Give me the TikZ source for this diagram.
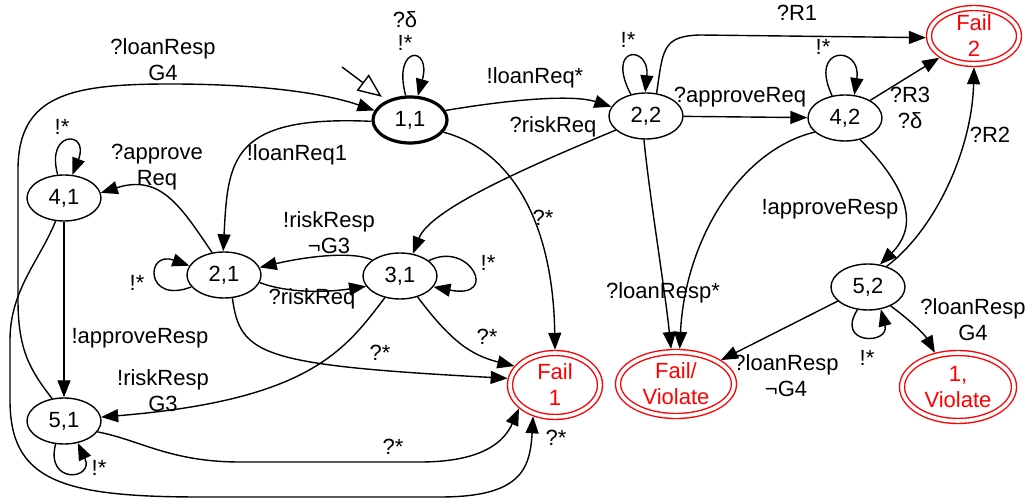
\documentclass[tikz,border=0pt]{standalone}
\usepackage{fontspec}
\setmainfont{Liberation Sans}
\usetikzlibrary{shapes.geometric,arrows.meta}

\begin{document}
\begin{tikzpicture}[x=0.5pt,y=-0.5pt,line width=0.7pt,
    font=\fontsize{11}{13}\selectfont,
    >={Triangle[length=8.5pt,width=6.5pt]},
    state/.style={ellipse,draw,minimum width=37pt,minimum height=23pt,inner sep=0pt},
    fail/.style={ellipse,draw=red,text=red,double,double distance=1.8pt,align=center,
        inner xsep=0pt,inner ysep=-3pt,outer sep=1.6pt},
    lab/.style={align=center,inner sep=0pt}]
    \path[use as bounding box] (0,0) rectangle (1028,501);

    \node[state,line width=1.6pt] (n11) at (410,120) {1,1};
    \node[state] (n22) at (646,116) {2,2};
    \node[state] (n42) at (845,118) {4,2};
    \node[state] (n41) at (64,198) {4,1};
    \node[state] (n21) at (224,275) {2,1};
    \node[state] (n31) at (400,276) {3,1};
    \node[state] (n51) at (64,421) {5,1};
    \node[state] (n52) at (868,287) {5,2};
    \node[fail,minimum width=45pt,minimum height=28pt] (fail2) at (974,36) {Fail\\2};
    \node[fail,minimum width=45pt,minimum height=32pt] (fail1) at (555,385) {Fail\\1};
    \node[fail,minimum width=58pt,minimum height=32pt] (failv) at (676,384) {Fail/\\Violate};
    \node[fail,minimum width=56pt,minimum height=34pt] (viol1) at (958,387) {1,\\Violate};

    \coordinate (init) at (342,67);
    \draw[-{Triangle[open,length=12pt,width=10pt]},shorten >=3pt] (init) -- (n11.140);

    \draw[->] (n11.100) .. controls (392,45) and (432,45) .. (n11.72);
    \draw[->] (n11.15) .. controls (520,98) and (575,95) .. (n22.165);
    \draw[->] (n11.182) .. controls (230,115) and (228,160) .. (n21.92);
    \draw[->] (n11.-20) .. controls (510,150) and (553,220) .. (fail1.north);
    \draw[->] (n51.118) .. controls (30,370) and (18,350) .. (18,300) -- (18,170)
        .. controls (18,95) and (70,84) .. (170,84) .. controls (270,84) and (330,95) .. (n11.165);
    \draw[->] (n41.250) .. controls (40,260) and (10,290) .. (10,340) -- (10,400)
        .. controls (10,480) and (60,497) .. (200,497) -- (440,497)
        .. controls (520,497) and (530,470) .. (fail1.235);
    \draw[->] (n41.105) .. controls (45,130) and (90,130) .. (n41.70);
    \draw[->] (n21.118) .. controls (180,205) and (160,174) .. (n41.8);
    \draw[->] (n41) -- (n51);
    \draw[->] (n21.200) .. controls (145,305) and (145,250) .. (n21.165);
    \draw[->] (n21.-12) .. controls (290,294) and (330,292) .. (n31.197);
    \draw[->] (n31.150) .. controls (350,250) and (300,258) .. (n21.12);
    \draw[->] (n31.28) .. controls (470,240) and (500,300) .. (n31.-18);
    \draw[->] (n31.235) .. controls (345,350) and (310,400) .. (n51.6);
    \draw[->] (n31.-50) .. controls (450,340) and (470,355) .. (fail1.155);
    \draw[->] (n21.-70) .. controls (240,355) and (260,365) .. (fail1.172);
    \draw[->] (n51.-18) .. controls (140,440) and (170,462) .. (240,462) -- (420,462)
        .. controls (485,462) and (505,440) .. (fail1.213);
    \draw[->] (n51.250) .. controls (45,485) and (95,480) .. (n51.-58);
    \draw[->] (n22.125) .. controls (605,45) and (650,45) .. (n22.92);
    \draw[->] (n22.65) .. controls (663,50) and (662,36) .. (700,35) -- (fail2.182);
    \draw[->] (n22) -- (n42);
    \draw[->] (n22.205) .. controls (520,170) and (430,210) .. (n31.60);
    \draw[->] (n22.-95) .. controls (650,200) and (665,290) .. (failv.98);
    \draw[->] (n42.205) .. controls (740,150) and (685,240) .. (failv.84);
    \draw[->] (n42.120) .. controls (808,45) and (862,45) .. (n42.68);
    \draw[->] (n42.35) -- (fail2.212);
    \draw[->] (n42.-55) .. controls (915,195) and (915,230) .. (n52.62);
    \draw[->] (n52.48) .. controls (935,230) and (972,150) .. (fail2.270);
    \draw[->] (n52.205) -- (failv.28);
    \draw[->] (n52.245) .. controls (835,345) and (890,345) .. (n52.-60);
    \draw[->] (n52.-40) .. controls (910,320) and (925,335) .. (viol1.124);

    \node[lab] (labD11) at (405,20) {?δ};
    \node[lab] (labS11) at (405,43) {!*};
    \node[lab] (labLReqS) at (535,78) {!loanReq*};
    \node[lab] (labLReq1) at (297,155) {!loanReq1};
    \node[lab] (labQ11) at (543,218) {?*};
    \node[lab] (labLRespG4) at (163,60) {?loanResp\\G4};
    \node[lab] (labQ41) at (556,438) {?*};
    \node[lab] (labS41) at (62,127) {!*};
    \node[lab] (labAppReq) at (157,167) {?approve\\Req};
    \node[lab] (labAppResp1) at (140,338) {!approveResp};
    \node[lab] (labS21) at (137,283) {!*};
    \node[lab] (labRReq1) at (312,299) {?riskReq};
    \node[lab] (labRRespNG3) at (329,233) {!riskResp\\¬G3};
    \node[lab] (labS31) at (488,263) {!*};
    \node[lab] (labRRespG3) at (163,391) {!riskResp\\G3};
    \node[lab] (labQ31) at (487,337) {?*};
    \node[lab] (labQ21) at (380,353) {?*};
    \node[lab] (labQ51) at (393,447) {?*};
    \node[lab] (labS51) at (99,468) {!*};
    \node[lab] (labS22) at (628,40) {!*};
    \node[lab] (labR1) at (797,13) {?R1};
    \node[lab] (labAppReq2) at (740,97) {?approveReq};
    \node[lab] (labRReq2) at (553,127) {?riskReq};
    \node[lab] (labLRespS) at (663,293) {?loanResp*};
    \node[lab] (labS42) at (823,47) {!*};
    \node[lab] (labR3) at (910,108) {?R3\\?δ};
    \node[lab] (labAppResp2) at (830,209) {!approveResp};
    \node[lab] (labR2) at (990,135) {?R2};
    \node[lab] (labLRespNG4) at (786,376) {?loanResp\\¬G4};
    \node[lab] (labS52) at (867,358) {!*};
    \node[lab] (labLRespG4b) at (973,320) {?loanResp\\G4};
\end{tikzpicture}
\end{document}
